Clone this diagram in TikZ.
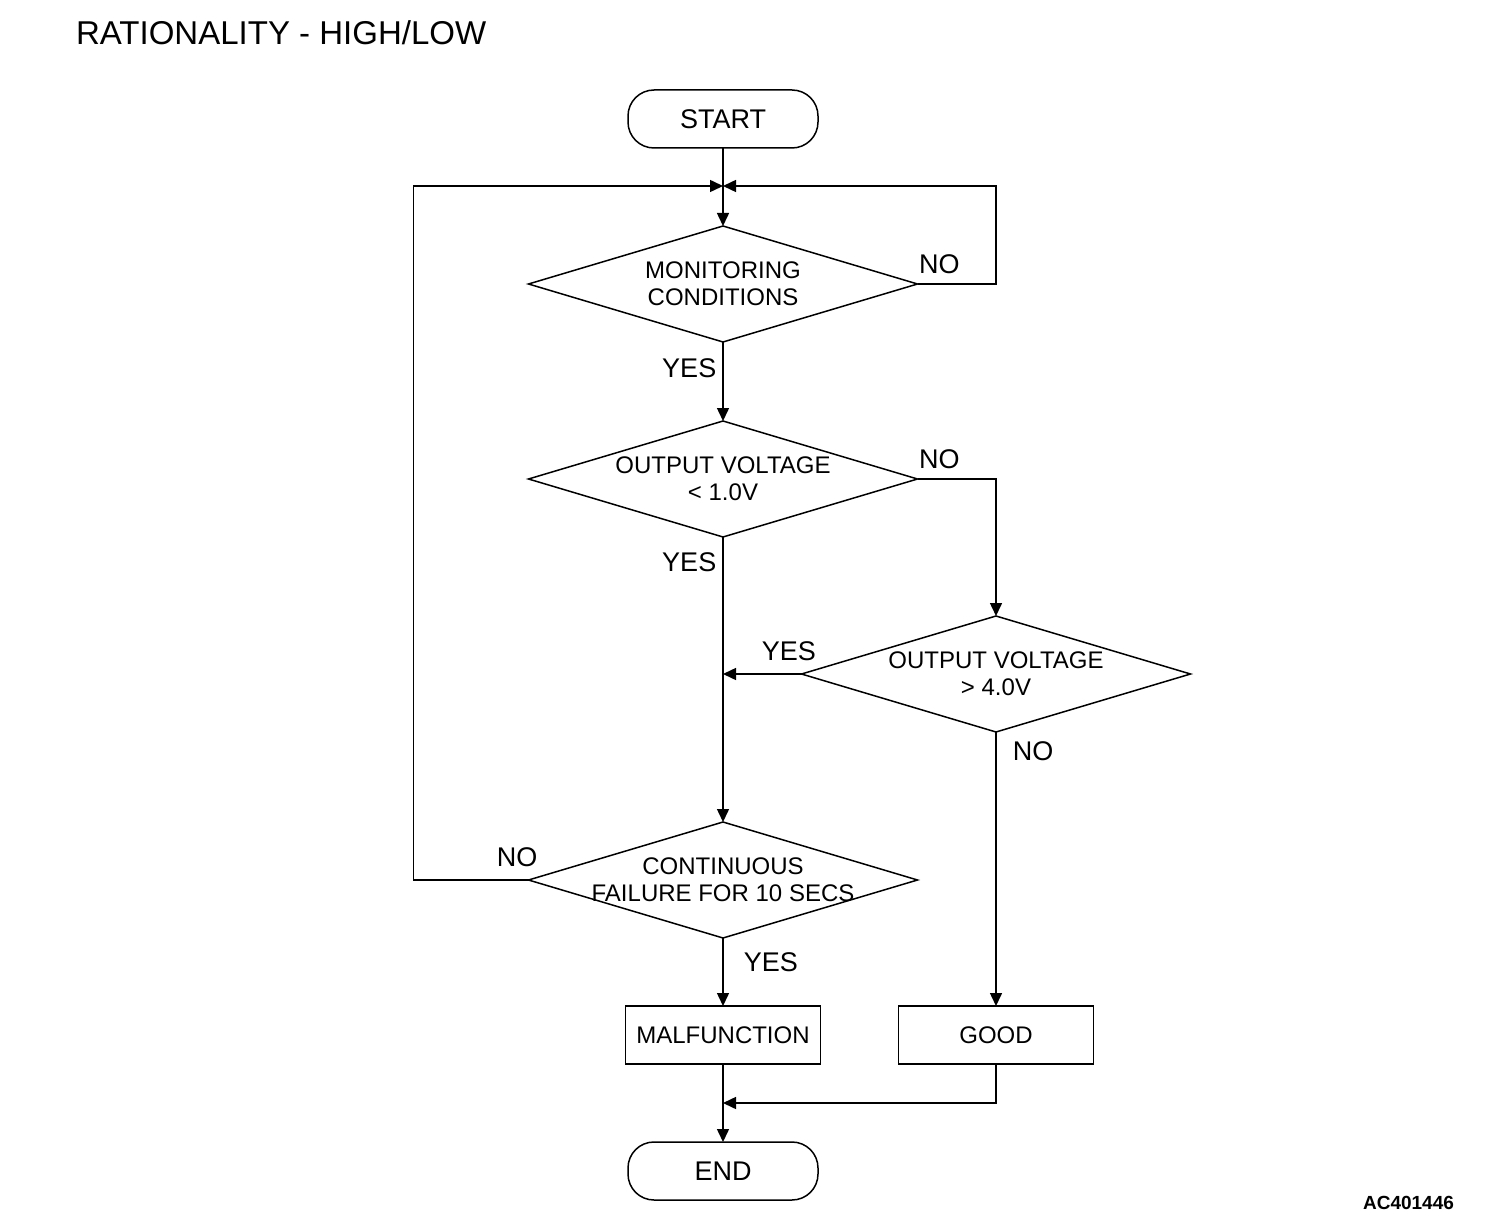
\documentclass[tikz,border=0pt]{standalone}
\usepackage{fontspec}
\setmainfont{Liberation Sans}
\usetikzlibrary{
	shapes.geometric,
	positioning,
	calc,
	arrows.meta
}

\begin{document}
\begin{tikzpicture}[
		x=1pt, y=-1pt,
		line width=1.5pt,
		term/.style={draw, rectangle, rounded corners=26pt, minimum width=190pt, minimum height=58pt, inner sep=0pt, outer sep=0pt, font=\fontsize{27}{30}\selectfont},
		decision/.style={draw, diamond, aspect=3.35, minimum width=389pt, minimum height=116pt, inner xsep=-24pt, inner ysep=0pt, outer sep=0pt, align=center, font=\fontsize{24}{27}\selectfont},
		process/.style={draw, rectangle, minimum width=195pt, minimum height=58pt, inner sep=0pt, outer sep=0pt, font=\fontsize{24}{28}\selectfont},
		lbl/.style={inner sep=0pt, font=\fontsize{27}{30}\selectfont},
		arr/.style={-{Triangle[length=13pt,width=12pt]}}
	]
		\fill[white] (0,0) rectangle (1504,1230);
		\useasboundingbox (0,0) rectangle (1504,1230);

		\node[anchor=base west, font=\fontsize{33}{36}\selectfont] (title) at (72,45) {RATIONALITY - HIGH/LOW};
		\node[anchor=base east, font=\bfseries\fontsize{19}{22}\selectfont] (code) at (1458,1209) {AC401446};

		\node[term]                     (start) at (723,119) {START};
		\node[decision,below=78pt of start] (mon)   {MONITORING\\CONDITIONS};
		\node[decision,below=79pt of mon]   (volt1) {OUTPUT VOLTAGE\\< 1.0V};
		\node[decision]                 (volt3) at (996,674) {OUTPUT VOLTAGE\\> 4.0V};
		\node[decision,below=285pt of volt1] (cont) {CONTINUOUS\\FAILURE FOR 10 SECS};
		\node[process,below=68pt of cont]   (malf)  {MALFUNCTION};
		\node[process,right=78pt of malf]   (good)  {GOOD};
		\node[term,below=78pt of malf]      (end)   {END};

		\coordinate (j) at (723,186);

		\draw (start) -- (j);
		\draw[arr] (j) -- (mon);
		\draw[arr] (mon.east) -- node[lbl,pos=0.28,above=9pt] {NO} (mon.east -| volt3) |- (j);
		\draw[arr] (mon) -- node[lbl,pos=0.33,left=6pt] {YES} (volt1);
		\draw[arr] (volt1.east) -| node[lbl,pos=0.14,above=9pt] {NO} (volt3.north);
		\draw[arr] (volt1) -- node[lbl,pos=0.09,left=6pt] {YES} (cont);
		\draw[arr] (volt3.west) -- node[lbl,pos=0.16,above=12pt] {YES} (volt3.west -| j);
		\draw[arr] (volt3) -- node[lbl,pos=0.07,right=16pt] {NO} (good);
		\draw[arr] (cont.west) -- node[lbl,pos=0.10,above=12pt] {NO} ++(-115,0) |- (j);
		\draw[arr] (cont) -- node[lbl,pos=0.35,right=20pt] {YES} (malf);
		\draw[arr] (malf) -- (end);
		\draw[arr] (good.south) |- ($(malf.south)!0.5!(end.north)$);
	\end{tikzpicture}
\end{document}
